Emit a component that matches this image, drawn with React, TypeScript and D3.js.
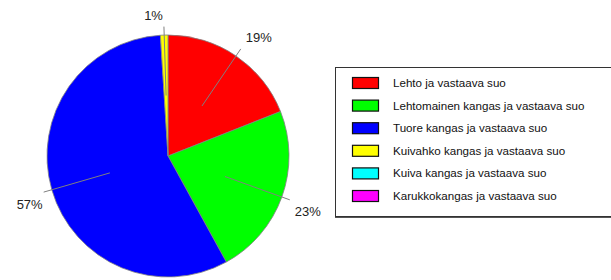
import React from "react";
import * as d3 from "d3";

const categories = [
  "Lehto ja vastaava suo",
  "Lehtomainen kangas ja vastaava suo",
  "Tuore kangas ja vastaava suo",
  "Kuivahko kangas ja vastaava suo",
  "Kuiva kangas ja vastaava suo",
  "Karukkokangas ja vastaava suo",
];
const values = [19, 23, 57, 1, 0, 0];
const colors = ["#ff0000", "#00ff00", "#0000ff", "#ffff00", "#00ffff", "#ff00ff"];

const W = 611;
const H = 280;
const cx = 168;
const cy = 156;
const R = 121;

export default function App() {
  const pie = d3.pie<number>().sort(null).value((d) => d)(values);
  const arc = d3.arc<d3.PieArcDatum<number>>().innerRadius(0).outerRadius(R);
  const total = d3.sum(values);
  const rowY = d3.scaleLinear().domain([0, 5]).range([83, 196]);

  return (
    <div style={{ position: "absolute", left: 0, top: 0 }}>
      <svg width={W} height={H} style={{ display: "block", fontFamily: "Arial, 'Liberation Sans', sans-serif" }}>
        <rect x={0} y={0} width={W} height={H} fill="#fff" />
        <g transform={`translate(${cx},${cy})`}>
          {pie.map((p, i) =>
            p.value > 0 ? (
              <path key={i} d={arc(p) || ""} fill={colors[i]} stroke="#808080" strokeWidth={0.8} />
            ) : null
          )}
          {pie.map((p, i) => {
            if (p.value <= 0) return null;
            const a = (p.startAngle + p.endAngle) / 2;
            const s = Math.sin(a);
            const c = Math.cos(a);
            const x1 = s * R * 0.5;
            const y1 = -c * R * 0.5;
            const x2 = s * R * 1.07;
            const y2 = -c * R * 1.07;
            const right = s > 0;
            const tx = right ? x2 + 5 : x2 - 1;
            const ty = c > 0 ? y2 - 11 : y2 + 12;
            const pct = Math.round((p.value / total) * 100) + "%";
            return (
              <g key={"l" + i}>
                <line x1={x1} y1={y1} x2={x2} y2={y2} stroke="#808080" strokeWidth={1} />
                <text
                  x={tx}
                  y={ty}
                  dy="0.35em"
                  textAnchor={right ? "start" : "end"}
                  fontSize={13}
                  fill="#222"
                >
                  {pct}
                </text>
              </g>
            );
          })}
        </g>
        <rect x={335.5} y={67.5} width={290} height={149} fill="#fff" stroke="#333" strokeWidth={1} />
        <line x1={335} x2={611} y1={217.5} y2={217.5} stroke="#555" strokeWidth={1} />
        {categories.map((cat, i) => (
          <g key={"g" + i}>
            <rect
              x={352.5}
              y={rowY(i) - 5.5}
              width={26}
              height={11}
              fill={colors[i]}
              stroke="#111"
              strokeWidth={1.2}
            />
            <text x={393} y={rowY(i)} dy="0.35em" fontSize={11.6} fill="#111">
              {cat}
            </text>
          </g>
        ))}
      </svg>
    </div>
  );
}
